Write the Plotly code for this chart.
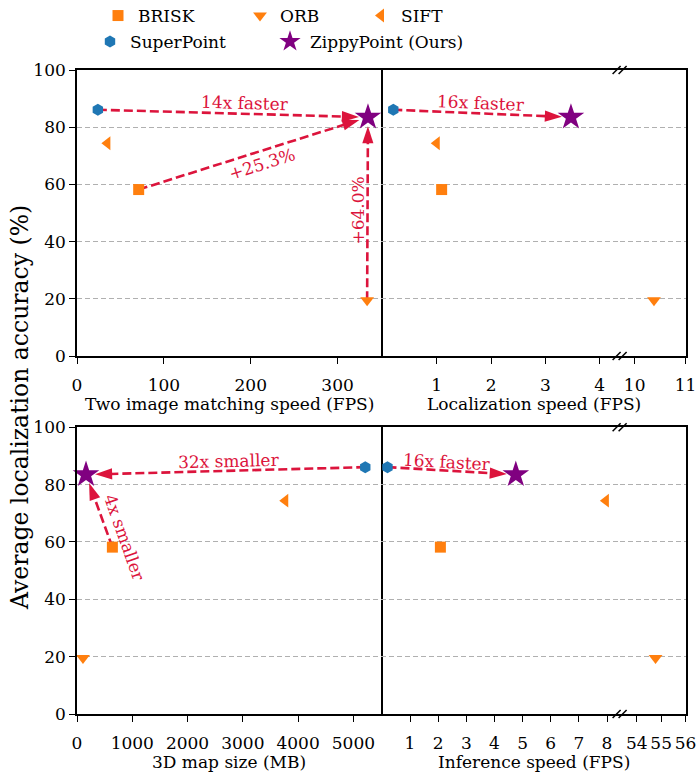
import plotly.graph_objects as go

# ---------------- data ----------------
methods = ["BRISK", "ORB", "SIFT", "SuperPoint", "ZippyPoint (Ours)"]
accuracy = [58.2, 19.5, 74.4, 86.1, 83.5]
matching_speed = [71, 334, 35, 24, 335]          # Two image matching speed (FPS)
localization_speed = [1.09, 10.38, 1.0, 0.2, 3.47]  # Localization speed (FPS)
map_size = [640, 108, 3768, 5215, 163]           # 3D map size (MB)
inference_speed = [2.08, 54.77, 7.96, 0.2, 4.76]    # Inference speed (FPS)

colors = ["#ff7f0e", "#ff7f0e", "#ff7f0e", "#1f77b4", "#800080"]
symbols = ["square", "triangle-down", "triangle-left", "hexagon", "star"]
msizes = [11, 12, 12, 12, 20]

yticks = [0, 20, 40, 60, 80, 100]
tl_ticks = [0, 100, 200, 300]
tr_ticks_a = [1, 2, 3, 4]
tr_ticks_b = [10, 11]
bl_ticks = [0, 1000, 2000, 3000, 4000, 5000]
br_ticks_a = [1, 2, 3, 4, 5, 6, 7, 8]
br_ticks_b = [54, 55, 56]

FONT = "DejaVu Serif"
CRIMSON = "#dc143c"

TOP = [0.5559, 1.0]
BOT = [0.0, 0.4452]
XL = [0.0, 0.4992]
XA = [0.4992, 0.891]
XB = [0.891, 1.0]
segments = [
    ("x", "y", XL, TOP, [0, 350], tl_ticks, matching_speed, "lr"),
    ("x2", "y2", XA, TOP, [-0.026, 4.366], tr_ticks_a, localization_speed, "l"),
    ("x3", "y3", XB, TOP, [9.704, 11.01], tr_ticks_b, localization_speed, "r"),
    ("x4", "y4", XL, BOT, [0, 5500], bl_ticks, map_size, "lr"),
    ("x5", "y5", XA, BOT, [-0.03, 8.448], br_ticks_a, inference_speed, "l"),
    ("x6", "y6", XB, BOT, [53.296, 56.02], br_ticks_b, inference_speed, "r"),
]

fig = go.Figure()

# ---------------- arrows ----------------
def idx(name):
    return methods.index(name)

arrows = [
    ("x", "y", matching_speed, "SuperPoint", "ZippyPoint (Ours)"),
    ("x", "y", matching_speed, "BRISK", "ZippyPoint (Ours)"),
    ("x", "y", matching_speed, "ORB", "ZippyPoint (Ours)"),
    ("x2", "y2", localization_speed, "SuperPoint", "ZippyPoint (Ours)"),
    ("x4", "y4", map_size, "SuperPoint", "ZippyPoint (Ours)"),
    ("x4", "y4", map_size, "BRISK", "ZippyPoint (Ours)"),
    ("x5", "y5", inference_speed, "SuperPoint", "ZippyPoint (Ours)"),
]
for xa, ya, vals, a, b in arrows:
    ia, ib = idx(a), idx(b)
    fig.add_trace(go.Scatter(
        x=[vals[ia], vals[ib]], y=[accuracy[ia], accuracy[ib]],
        xaxis=xa, yaxis=ya, mode="lines+markers",
        line=dict(color=CRIMSON, width=2.6, dash="9px,4px"),
        marker=dict(symbol="arrow", size=18, angleref="previous",
                    color=CRIMSON, standoff=9),
        showlegend=False, hoverinfo="skip", cliponaxis=False,
    ))

# ---------------- markers ----------------
for k, m in enumerate(methods):
    for si, (xa, ya, xd, yd, xr, xt, vals, _) in enumerate(segments):
        v = vals[k]
        if not (xr[0] <= v <= xr[1]):
            continue
        fig.add_trace(go.Scatter(
            x=[v], y=[accuracy[k]], xaxis=xa, yaxis=ya, mode="markers",
            marker=dict(symbol=symbols[k], size=msizes[k], color=colors[k],
                        line=dict(width=0)),
            name=m, showlegend=(si == 0),
            legend="legend" if k == 0 else f"legend{k + 1}",
            cliponaxis=False,
        ))

# ---------------- axes ----------------
layout = dict(
    width=696, height=774,
    margin=dict(l=77, r=10, t=70, b=60, autoexpand=False),
    paper_bgcolor="white", plot_bgcolor="white",
    font=dict(family=FONT, size=17, color="black"),
)
for xa, ya, xd, yd, xr, xt, vals, yside in segments:
    xk = "xaxis" + xa[1:]
    yk = "yaxis" + ya[1:]
    layout[xk] = dict(
        domain=xd, range=xr, anchor=ya, tickvals=xt, ticktext=[str(t) for t in xt],
        showline=True, mirror=True, linecolor="black", linewidth=1.6,
        ticks="outside", ticklen=6, tickwidth=1.3, tickcolor="black",
        showgrid=False, zeroline=False, tickangle=0,
        tickfont=dict(family=FONT, size=17), ticklabelstandoff=7,
        ticklabeloverflow="allow",
    )
    ydict = dict(
        domain=yd, range=[0, 100], anchor=xa, tickvals=yticks,
        showgrid=True, gridcolor="#b0b0b0", gridwidth=1, griddash="5px,3px",
        zeroline=False, linecolor="black", linewidth=1.6,
    )
    if yside == "lr":
        ydict.update(showline=True, mirror=True, ticks="outside", ticklen=6, tickwidth=1.3,
                     tickcolor="black", showticklabels=True,
                     tickfont=dict(family=FONT, size=17))
    elif yside == "l":
        ydict.update(showline=False, ticks="", showticklabels=False, side="left")
    else:
        ydict.update(showline=True, mirror=False, ticks="", showticklabels=False, side="right")
    layout[yk] = ydict

# ---------------- legends ----------------
leg_pos = [(118, 16), (260, 16), (381, 16), (110, 42), (290, 42)]
for k, (px, py) in enumerate(leg_pos):
    key = "legend" if k == 0 else f"legend{k + 1}"
    layout[key] = dict(
        x=(px - 20 - 77) / 609, y=(714 - py) / 644, xanchor="left", yanchor="middle",
        orientation="h", bgcolor="rgba(0,0,0,0)", borderwidth=0,
        font=dict(family=FONT, size=17),
    )

fig.update_layout(**layout)

# ---------------- annotations ----------------
ann = [
    ("x", "y", 193, 88.6, "14x faster", 1.6),
    ("x", "y", 213, 67.0, "+25.3%", -17.6),
    ("x", "y", 323.7, 50.9, "+64.0%", -90),
    ("x2", "y2", 1.815, 88.3, "16x faster", 2.4),
    ("x4", "y4", 2743, 88.3, "32x smaller", -1.4),
    ("x4", "y4", 862, 61.4, "4x smaller", 70.5),
    ("x5", "y5", 2.31, 87.9, "16x faster", 3.1),
]
for xa, ya, x, y, t, ang in ann:
    fig.add_annotation(x=x, y=y, xref=xa, yref=ya, text=t, showarrow=False,
                       textangle=ang, font=dict(family=FONT, size=17, color=CRIMSON))

titles = [
    ((XL[0] + XL[1]) / 2, (714 - 404) / 644, "Two image matching speed (FPS)"),
    ((XA[0] + XB[1]) / 2, (714 - 404) / 644, "Localization speed (FPS)"),
    ((XL[0] + XL[1]) / 2, (714 - 762) / 644, "3D map size (MB)"),
    ((XA[0] + XB[1]) / 2, (714 - 762) / 644, "Inference speed (FPS)"),
]
for x, y, t in titles:
    fig.add_annotation(x=x, y=y, xref="paper", yref="paper", text=t, showarrow=False,
                       xanchor="center", yanchor="middle",
                       font=dict(family=FONT, size=17, color="black"))
fig.add_annotation(x=(20 - 77) / 609, y=(714 - 408) / 644, xref="paper", yref="paper",
                   text="Average localization accuracy (%)", showarrow=False,
                   textangle=-90, xanchor="center", yanchor="middle",
                   font=dict(family=FONT, size=23.5, color="black"))

# ---------------- broken-axis marks ----------------
for ybase in [TOP[0], TOP[1], BOT[0], BOT[1]]:
    for off in [-3, 3]:
        fig.add_shape(type="line", xref="paper", yref="paper",
                      xsizemode="pixel", ysizemode="pixel",
                      xanchor=XB[0], yanchor=ybase,
                      x0=off - 4, x1=off + 4, y0=-4, y1=4,
                      line=dict(color="black", width=1.5))

fig.write_html("out.html", config={"displayModeBar": False},
               post_script="document.body.style.margin='0';document.body.style.overflow='hidden';")
